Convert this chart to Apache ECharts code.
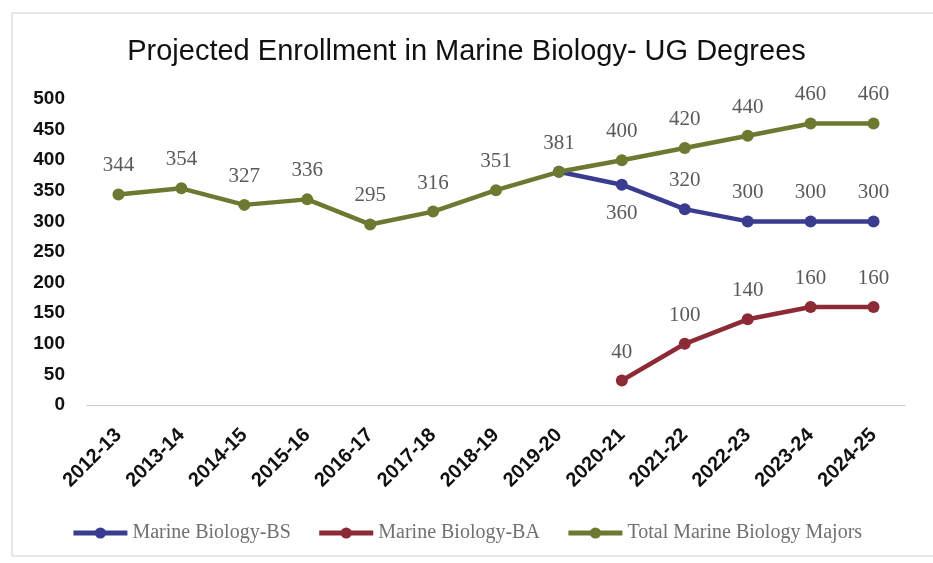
<!DOCTYPE html>
<html>
<head>
<meta charset="utf-8">
<script src="https://cdn.jsdelivr.net/npm/echarts@6/dist/echarts.min.js"></script>
<style>
  html, body { margin: 0; padding: 0; background: #fff; }
  #chart { width: 933px; height: 563px; }
</style>
</head>
<body>
<div id="chart"></div>
<script>
// school years on the x axis
const years = ['2012-13', '2013-14', '2014-15', '2015-16', '2016-17', '2017-18', '2018-19',
               '2019-20', '2020-21', '2021-22', '2022-23', '2023-24', '2024-25'];

// BS line starts from the 2019-20 total, BA starts in 2020-21
const bsValues = [null, null, null, null, null, null, null, 381, 360, 320, 300, 300, 300];
const baValues = [null, null, null, null, null, null, null, null, 40, 100, 140, 160, 160];
const totalValues = [344, 354, 327, 336, 295, 316, 351, 381, 400, 420, 440, 460, 460];

const yTicks = [0, 50, 100, 150, 200, 250, 300, 350, 400, 450, 500];

const chart = echarts.init(document.getElementById('chart'), null, { renderer: 'canvas' });

const labelFont = {
    fontFamily: 'Liberation Serif, DejaVu Serif, serif',
    fontSize: 21,
    color: '#5a5a5a'
};

const option = {
    backgroundColor: '#fff',
    animation: false,
    title: {
        text: 'Projected Enrollment in Marine Biology- UG Degrees',
        left: 'center',
        top: 32,
        textStyle: {
            fontFamily: 'Liberation Sans, sans-serif',
            fontWeight: 'normal',
            fontSize: 29,
            color: '#111'
        }
    },
    graphic: [{
        type: 'rect',
        shape: { x: 12, y: 13, width: 930, height: 543 },
        style: { fill: 'none', stroke: '#cfcfcf', lineWidth: 1 },
        silent: true
    }],
    legend: {
        bottom: 15,
        left: 'center',
        itemWidth: 54,
        itemHeight: 14,
        itemGap: 26,
        lineStyle: { width: 5 },
        textStyle: {
            fontFamily: 'Liberation Serif, serif',
            fontSize: 20,
            color: '#707070'
        },
        data: ['Marine Biology-BS', 'Marine Biology-BA', 'Total Marine Biology Majors']
    },
    grid: {
        left: 87,
        right: 28,
        top: 99,
        bottom: 158
    },
    xAxis: {
        type: 'category',
        data: years,
        boundaryGap: true,
        axisLine: { lineStyle: { color: '#c8c8c8', width: 1 } },
        axisTick: { show: false },
        axisLabel: {
            rotate: 45,
            interval: 0,
            margin: 27,
            fontFamily: 'Liberation Sans, sans-serif',
            fontWeight: 'bold',
            fontSize: 20,
            color: '#111'
        }
    },
    yAxis: {
        type: 'value',
        min: yTicks[0],
        max: yTicks[yTicks.length - 1],
        interval: 50,
        splitLine: { show: false },
        axisLine: { show: false },
        axisTick: { show: false },
        axisLabel: {
            margin: 22,
            fontFamily: 'Liberation Sans, sans-serif',
            fontWeight: 'bold',
            fontSize: 19,
            color: '#111'
        }
    },
    series: [
        {
            name: 'Marine Biology-BS',
            type: 'line',
            data: bsValues.map((v, i) => ({
                value: v,
                label: {
                    show: v !== null && i > 7,
                    position: i === 8 ? 'bottom' : 'top',
                    distance: 12
                }
            })),
            z: 2,
            symbol: 'circle',
            symbolSize: 12,
            color: '#3a3d8f',
            lineStyle: { width: 4.5, color: '#3a3d8f' },
            label: Object.assign({ distance: 12 }, labelFont)
        },
        {
            name: 'Marine Biology-BA',
            type: 'line',
            data: baValues,
            z: 3,
            symbol: 'circle',
            symbolSize: 12,
            color: '#8c2a36',
            lineStyle: { width: 4.5, color: '#8c2a36' },
            label: Object.assign({ show: true, position: 'top', distance: 12 }, labelFont)
        },
        {
            name: 'Total Marine Biology Majors',
            type: 'line',
            data: totalValues,
            z: 4,
            symbol: 'circle',
            symbolSize: 12,
            color: '#6b7a30',
            lineStyle: { width: 4.5, color: '#6b7a30' },
            label: Object.assign({ show: true, position: 'top', distance: 12 }, labelFont)
        }
    ]
};

chart.setOption(option);
</script>
</body>
</html>
